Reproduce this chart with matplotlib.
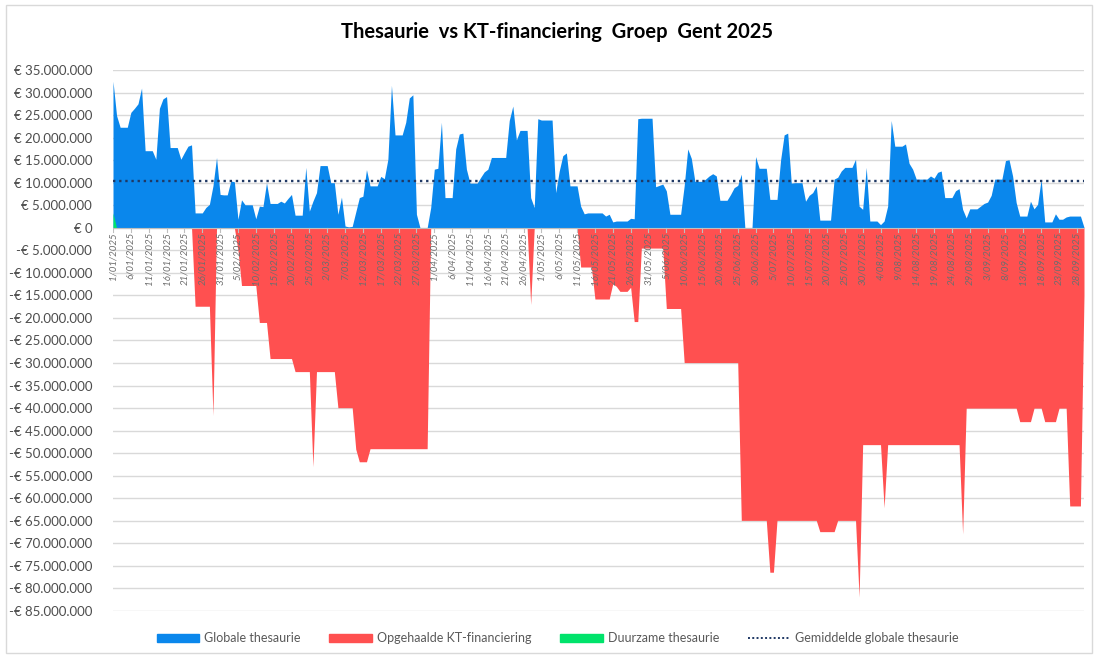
import pandas as pd
import numpy as np
import matplotlib.pyplot as plt
import matplotlib.ticker as ticker
from matplotlib.patches import Patch, Rectangle
from matplotlib.lines import Line2D
import matplotlib.transforms as mtransforms

plt.rcParams['font.family'] = ['Lato', 'DejaVu Sans']

# daily values in million euro, 1/01/2025 .. 30/09/2025
start_date = '2025-01-01'

globale = [
    32.5, 24.9, 22.3, 22.3, 22.3, 25.6, 26.5, 27.5, 31.0, 17.1,
    17.1, 17.1, 15.2, 26.5, 28.6, 29.1, 17.8, 17.8, 17.8, 15.2,
    16.7, 18.1, 18.4, 3.3, 3.3, 3.3, 4.5, 5.2, 9.3, 15.6,
    7.4, 7.3, 7.3, 10.4, 10.2, 1.9, 6.2, 5.1, 5.1, 5.1,
    2.0, 4.8, 4.7, 10.0, 5.4, 5.4, 5.4, 5.9, 5.5, 6.5,
    7.4, 2.8, 2.8, 2.8, 13.4, 3.7, 5.9, 7.8, 13.8, 13.8,
    13.8, 10.0, 10.0, 3.0, 6.8, 0.4, 0.2, 0.3, 3.5, 6.7,
    7.0, 12.9, 9.3, 9.3, 9.3, 11.4, 10.9, 15.2, 31.6, 20.6,
    20.6, 20.6, 23.4, 28.8, 29.5, 3.0, 0.0, 0.0, 0.0, 4.5,
    13.0, 13.2, 23.4, 6.7, 6.7, 6.7, 17.5, 20.8, 21.0, 13.0,
    9.9, 9.9, 9.9, 11.2, 12.4, 13.0, 15.6, 15.6, 15.6, 15.6,
    15.6, 23.8, 27.0, 19.5, 21.6, 21.6, 21.6, 6.7, 4.5, 24.2,
    23.9, 23.9, 23.9, 23.9, 7.8, 12.6, 16.0, 16.6, 9.3, 9.3,
    9.3, 4.8, 3.1, 3.3, 3.3, 3.3, 3.3, 3.3, 2.6, 3.0,
    1.3, 1.5, 1.5, 1.5, 1.5, 2.1, 2.0, 24.2, 24.3, 24.3,
    24.3, 24.3, 9.1, 9.4, 9.7, 8.2, 3.0, 3.0, 3.0, 3.0,
    9.3, 17.5, 15.4, 10.3, 10.3, 10.3, 10.8, 11.5, 12.0, 11.5,
    6.1, 6.1, 6.1, 7.4, 8.9, 9.4, 11.9, 0.0, 0.0, 0.0,
    15.8, 13.2, 13.2, 13.2, 6.3, 6.3, 6.3, 15.0, 20.6, 21.0,
    9.9, 10.0, 10.0, 10.0, 5.9, 7.2, 7.8, 9.3, 1.7, 1.7,
    1.7, 1.7, 10.8, 11.2, 12.6, 13.4, 13.4, 13.4, 15.2, 4.8,
    4.1, 13.4, 1.5, 1.5, 1.5, 0.7, 1.5, 4.8, 23.8, 18.1,
    18.1, 18.1, 18.6, 14.3, 13.0, 10.8, 10.8, 10.8, 10.8, 11.5,
    11.0, 12.3, 12.6, 6.7, 6.7, 6.7, 8.2, 8.7, 4.1, 2.2,
    4.2, 4.2, 4.2, 4.8, 5.4, 5.7, 7.2, 10.8, 10.8, 10.8,
    14.9, 15.1, 11.5, 5.6, 2.6, 2.6, 2.6, 5.9, 4.2, 5.2,
    10.8, 1.3, 1.3, 1.3, 3.1, 1.9, 1.9, 2.4, 2.6, 2.6,
    2.6, 2.6, 0.1,
]

kt_financiering = [
    0, 0, 0, 0, 0, 0, 0, 0, 0, 0,
    0, 0, 0, 0, 0, 0, 0, 0, 0, 0,
    0, 0, 0, -17.4, -17.4, -17.4, -17.4, -17.4, -41.6, 0,
    0, 0, 0, 0, 0, -5.0, -12.8, -12.8, -12.8, -12.8,
    -12.8, -21.0, -21.0, -21.0, -29.0, -29.0, -29.0, -29.0, -29.0, -29.0,
    -29.0, -31.9, -31.9, -31.9, -31.9, -31.9, -53.0, -31.9, -31.9, -31.9,
    -31.9, -31.9, -31.9, -39.9, -39.9, -39.9, -39.9, -39.9, -49.1, -51.9,
    -51.9, -51.9, -49.0, -49.0, -49.0, -49.0, -49.0, -49.0, -49.0, -49.0,
    -49.0, -49.0, -49.0, -49.0, -49.0, -49.0, -49.0, -49.0, -49.0, 0,
    0, 0, 0, 0, 0, 0, 0, 0, 0, 0,
    0, 0, 0, 0, 0, 0, 0, 0, 0, 0,
    0, 0, 0, 0, 0, 0, 0, -17.0, 0, 0,
    0, 0, 0, 0, 0, 0, 0, 0, 0, 0,
    0, -8.7, -8.7, -8.7, -8.7, -15.8, -15.8, -15.8, -15.8, -15.8,
    -12.4, -13.0, -14.1, -14.1, -14.1, -13.2, -20.8, -20.8, -4.5, -4.5,
    -4.5, -4.5, -4.5, -4.5, -4.5, -17.9, -17.9, -17.9, -17.9, -17.9,
    -29.9, -29.9, -29.9, -29.9, -29.9, -29.9, -29.9, -29.9, -29.9, -29.9,
    -29.9, -29.9, -29.9, -29.9, -29.9, -29.9, -64.9, -64.9, -64.9, -64.9,
    -64.9, -64.9, -64.9, -64.9, -76.4, -76.4, -64.9, -64.9, -64.9, -64.9,
    -64.9, -64.9, -64.9, -64.9, -64.9, -64.9, -64.9, -64.9, -67.4, -67.4,
    -67.4, -67.4, -67.4, -64.9, -64.9, -64.9, -64.9, -64.9, -64.9, -81.9,
    -48.1, -48.1, -48.1, -48.1, -48.1, -48.1, -62.1, -48.1, -48.1, -48.1,
    -48.1, -48.1, -48.1, -48.1, -48.1, -48.1, -48.1, -48.1, -48.1, -48.1,
    -48.1, -48.1, -48.1, -48.1, -48.1, -48.1, -48.1, -48.1, -67.9, -40.0,
    -40.0, -40.0, -40.0, -40.0, -40.0, -40.0, -40.0, -40.0, -40.0, -40.0,
    -40.0, -40.0, -40.0, -40.0, -43.0, -43.0, -43.0, -43.0, -40.0, -40.0,
    -40.0, -43.0, -43.0, -43.0, -43.0, -40.0, -40.0, -40.0, -61.7, -61.7,
    -61.7, -61.7, -15.0,
]

duurzaam = [3.3] + [0.0] * 272

gemiddelde = 10.3  # average line

dates = pd.date_range(start_date, periods=len(globale), freq='D')
blue = np.array(globale) * 1e6
red = np.array(kt_financiering) * 1e6
green = np.array(duurzaam) * 1e6

c_blue = '#0A87EC'
c_red = '#FF5050'
c_green = '#00E36B'
c_avg = '#1F3864'
c_text = '#595959'

fig = plt.figure(figsize=(10.96, 6.57), dpi=100)
ax = fig.add_axes([113 / 1096, 46 / 657, (1084 - 113) / 1096, (611 - 70) / 657])

ax.fill_between(dates, 0, blue, color=c_blue, lw=0, zorder=2)
ax.fill_between(dates, 0, red, color=c_red, lw=0, zorder=3)
ax.fill_between(dates, 0, green, color=c_green, lw=0, zorder=4)
ax.plot([dates[0], dates[-1]], [gemiddelde * 1e6] * 2, color=c_avg,
        linestyle=(0, (1, 1.6)), lw=1.7, zorder=5)

ax.set_xlim(dates[0], dates[-1])
ax.set_ylim(-85e6, 35e6)
ax.yaxis.set_major_locator(ticker.MultipleLocator(5e6))

def euro_formatter(v, _):
    if abs(v) < 1:
        return '€ 0'
    s = f'€ {abs(v):,.0f}'.replace(',', '.')
    return s if v > 0 else '-' + s

ax.yaxis.set_major_formatter(ticker.FuncFormatter(euro_formatter))
ax.tick_params(axis='y', length=0, pad=15, labelsize=9.5, labelcolor='#4D4D4D')
ax.grid(axis='y', color='#D9D9D9', lw=1, zorder=0)
ax.set_axisbelow(True)
for sp in ax.spines.values():
    sp.set_visible(False)

# date labels at the zero line, every 5 days
ax.set_xticks([])
ax.axhline(0, color='#BFBFBF', lw=0.8, zorder=6)
tick_dates = dates[::5]
off = mtransforms.offset_copy(ax.transData, fig=fig, x=0, y=-3, units='points')
for d in tick_dates:
    ax.plot([d, d], [0, -0.9e6], color='#BFBFBF', lw=0.8, zorder=6)
    ax.text(d, 0, f'{d.day}/{d.month:02d}/{d.year}', transform=off,
            rotation=90, ha='center', va='top', fontsize=7, style='italic',
            color='#6E6E6E', zorder=7)

fig.text(0.508, 0.951, 'Thesaurie  vs KT-financiering  Groep  Gent 2025',
         ha='center', va='center', fontsize=14.5, fontweight='bold', color='black')

handles = [
    Patch(color=c_blue, label='Globale thesaurie'),
    Patch(color=c_red, label='Opgehaalde KT-financiering'),
    Patch(color=c_green, label='Duurzame thesaurie'),
    Line2D([], [], color=c_avg, linestyle=(0, (1, 1.2)), lw=1.4,
           label='Gemiddelde globale thesaurie'),
]
leg = fig.legend(handles=handles, loc='center', bbox_to_anchor=(0.509, 0.029),
                 ncol=4, frameon=False, fontsize=9, handlelength=3.4,
                 handleheight=0.6, columnspacing=2.3, handletextpad=0.4)
for t in leg.get_texts():
    t.set_color(c_text)

fig.patches.append(Rectangle((6 / 1096, 4 / 657), 1086 / 1096, 648 / 657,
                             transform=fig.transFigure, fill=False,
                             edgecolor='#D9D9D9', lw=1))

fig.savefig('out.png', dpi=100)
